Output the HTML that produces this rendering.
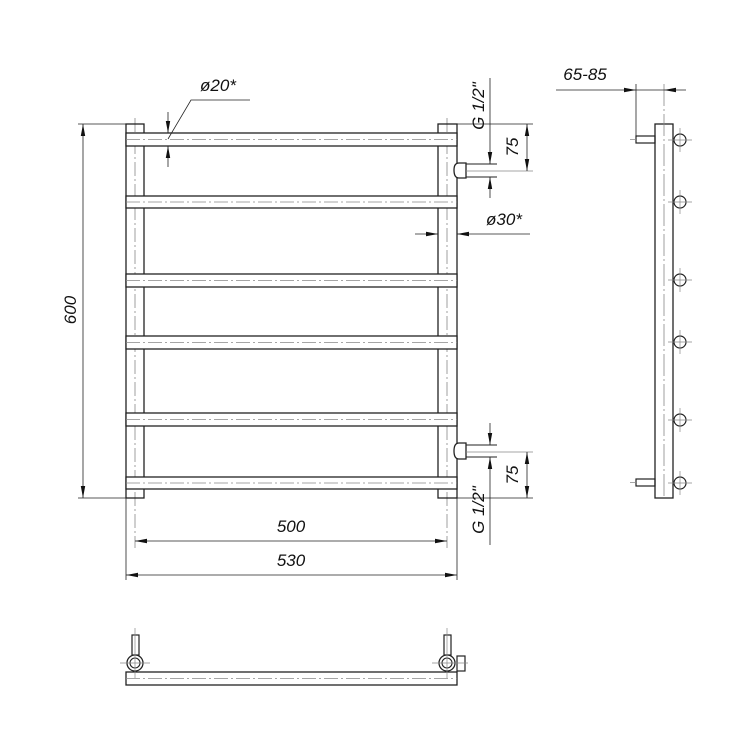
<!DOCTYPE html>
<html><head><meta charset="utf-8"><style>
html,body{margin:0;padding:0;background:#fff}
svg{display:block}
text{font-family:"Liberation Sans",sans-serif;font-style:italic;fill:#111}
</style></head><body>
<svg width="750" height="750" viewBox="0 0 750 750" xmlns="http://www.w3.org/2000/svg">
<defs>
<marker id="a" viewBox="0 0 12 6" refX="12" refY="3" markerWidth="12" markerHeight="6" orient="auto-start-reverse" markerUnits="userSpaceOnUse"><path d="M0,0.8 L12,3 L0,5.2z" fill="#111"/></marker>
</defs>
<g stroke="#222" fill="none" stroke-width="1">
<!-- centerlines of posts -->
<g stroke="#888" stroke-width="0.8" stroke-dasharray="14,3,2,3">
<line x1="135" y1="118" x2="135" y2="548"/>
<line x1="447" y1="118" x2="447" y2="548"/>
</g>
<!-- posts -->
<rect x="126" y="124" width="18" height="374" fill="none" stroke-width="1.3"/>
<rect x="438" y="124" width="19" height="374" fill="none" stroke-width="1.3"/>
<!-- rails -->
<g fill="#fff" stroke-width="1.3">
<rect x="126" y="133" width="331" height="13"/>
<rect x="126" y="196" width="331" height="12"/>
<rect x="126" y="274" width="331" height="13"/>
<rect x="126" y="336" width="331" height="13"/>
<rect x="126" y="413" width="331" height="13"/>
<rect x="126" y="477" width="331" height="12"/>
</g>
<g stroke="#888" stroke-width="0.8" stroke-dasharray="14,3,2,3">
<line x1="126" y1="139.5" x2="457" y2="139.5"/>
<line x1="126" y1="202" x2="457" y2="202"/>
<line x1="126" y1="280.5" x2="457" y2="280.5"/>
<line x1="126" y1="342.5" x2="457" y2="342.5"/>
<line x1="126" y1="419.5" x2="457" y2="419.5"/>
<line x1="126" y1="483" x2="457" y2="483"/>
</g>
<!-- stubs -->
<path d="M466,163 H459 Q454,163 454,170 Q454,178 459,178 H466 Z" fill="#fff" stroke-width="1.3"/>
<line x1="466" y1="164" x2="497" y2="164"/><line x1="466" y1="177" x2="497" y2="177"/>
<line x1="466" y1="171" x2="533" y2="171" stroke="#888" stroke-width="0.8"/>
<path d="M466,443 H459 Q454,443 454,451 Q454,459 459,459 H466 Z" fill="#fff" stroke-width="1.3"/>
<line x1="466" y1="445" x2="497" y2="445"/><line x1="466" y1="457" x2="497" y2="457"/>
<line x1="466" y1="452" x2="533" y2="452" stroke="#888" stroke-width="0.8"/>
<!-- 600 dim -->
<line x1="78" y1="124" x2="126" y2="124" stroke-width="0.8"/>
<line x1="78" y1="498" x2="126" y2="498" stroke-width="0.8"/>
<line x1="83" y1="124" x2="83" y2="498" stroke-width="0.8" marker-start="url(#a)" marker-end="url(#a)"/>
<!-- 500 / 530 -->
<line x1="126" y1="498" x2="126" y2="580" stroke-width="0.8"/>
<line x1="457" y1="498" x2="457" y2="580" stroke-width="0.8"/>
<line x1="135" y1="541" x2="447" y2="541" stroke-width="0.8" marker-start="url(#a)" marker-end="url(#a)"/>
<line x1="126" y1="575" x2="457" y2="575" stroke-width="0.8" marker-start="url(#a)" marker-end="url(#a)"/>
<!-- phi20 -->
<line x1="168" y1="112" x2="168" y2="133" stroke-width="0.8" marker-end="url(#a)"/>
<line x1="168" y1="167" x2="168" y2="146" stroke-width="0.8" marker-end="url(#a)"/>
<polyline points="168,139 191,100 250,100" stroke-width="0.8"/>
<!-- phi30 -->
<line x1="415" y1="234" x2="438" y2="234" stroke-width="0.8" marker-end="url(#a)"/>
<line x1="530" y1="234" x2="457" y2="234" stroke-width="0.8" marker-end="url(#a)"/>
<!-- top right dims -->
<line x1="457" y1="124" x2="533" y2="124" stroke-width="0.8"/>
<line x1="527" y1="124" x2="527" y2="171" stroke-width="0.8" marker-start="url(#a)" marker-end="url(#a)"/>
<line x1="490" y1="78" x2="490" y2="164" stroke-width="0.8" marker-end="url(#a)"/>
<line x1="490" y1="198" x2="490" y2="177" stroke-width="0.8" marker-end="url(#a)"/>
<line x1="457" y1="498" x2="533" y2="498" stroke-width="0.8"/>
<line x1="527" y1="452" x2="527" y2="498" stroke-width="0.8" marker-start="url(#a)" marker-end="url(#a)"/>
<line x1="490" y1="423" x2="490" y2="445" stroke-width="0.8" marker-end="url(#a)"/>
<line x1="490" y1="545" x2="490" y2="457" stroke-width="0.8" marker-end="url(#a)"/>
<!-- side view -->
<rect x="655" y="124" width="18" height="374" stroke-width="1.3"/>
<line x1="664" y1="84" x2="664" y2="498" stroke="#888" stroke-width="0.8" stroke-dasharray="22,3,2,3"/>
<line x1="636" y1="84" x2="636" y2="136" stroke-width="0.8"/>
<line x1="556" y1="90" x2="636" y2="90" stroke-width="0.8" marker-end="url(#a)"/>
<line x1="686" y1="90" x2="664" y2="90" stroke-width="0.8" marker-end="url(#a)"/>
<line x1="636" y1="90" x2="664" y2="90" stroke-width="0.8"/>
<rect x="636" y="136" width="19" height="7" stroke-width="1.2"/>
<rect x="636" y="479" width="19" height="7" stroke-width="1.2"/>
<g stroke-width="1.2">
<circle cx="680" cy="140" r="6"/><circle cx="680" cy="202" r="6"/><circle cx="680" cy="280" r="6"/>
<circle cx="680" cy="342" r="6"/><circle cx="680" cy="420" r="6"/><circle cx="680" cy="483" r="6"/>
</g>
<g stroke="#888" stroke-width="0.7">
<path d="M668,140h24M680,128v24M668,202h24M680,190v24M668,280h24M680,268v24M668,342h24M680,330v24M668,420h24M680,408v24M668,483h24M680,471v24M630,139.5h6M630,482.5h6"/>
</g>
<!-- bottom view -->
<rect x="126" y="672" width="331" height="13" stroke-width="1.3"/>
<line x1="126" y1="678.5" x2="457" y2="678.5" stroke="#888" stroke-width="0.8" stroke-dasharray="14,3,2,3"/>
<rect x="132" y="635" width="7" height="20" stroke-width="1.2"/>
<rect x="444" y="635" width="7" height="20" stroke-width="1.2"/>
<rect x="457" y="656" width="8" height="15" stroke-width="1.2" fill="#fff"/>
<circle cx="135" cy="663" r="8" stroke-width="1.3" fill="#fff"/><circle cx="135" cy="663" r="5" stroke-width="1.1"/>
<circle cx="447" cy="663" r="8" stroke-width="1.3" fill="#fff"/><circle cx="447" cy="663" r="5" stroke-width="1.1"/>
<g stroke="#888" stroke-width="0.7">
<path d="M120,663h30M135,628v50M432,663h36M447,628v50"/>
</g>
</g>
<g font-size="17">
<text x="218" y="91" text-anchor="middle">ø20*</text>
<text x="504" y="225" text-anchor="middle">ø30*</text>
<text x="291" y="532" text-anchor="middle">500</text>
<text x="291" y="566" text-anchor="middle">530</text>
<text x="585" y="80" text-anchor="middle">65-85</text>
<text transform="translate(76,310) rotate(-90)" text-anchor="middle">600</text>
<text transform="translate(518,147) rotate(-90)" text-anchor="middle">75</text>
<text transform="translate(518,475) rotate(-90)" text-anchor="middle">75</text>
<text transform="translate(484,106) rotate(-90)" text-anchor="middle">G 1/2"</text>
<text transform="translate(484,510) rotate(-90)" text-anchor="middle">G 1/2"</text>
</g>
</svg>
</body></html>
